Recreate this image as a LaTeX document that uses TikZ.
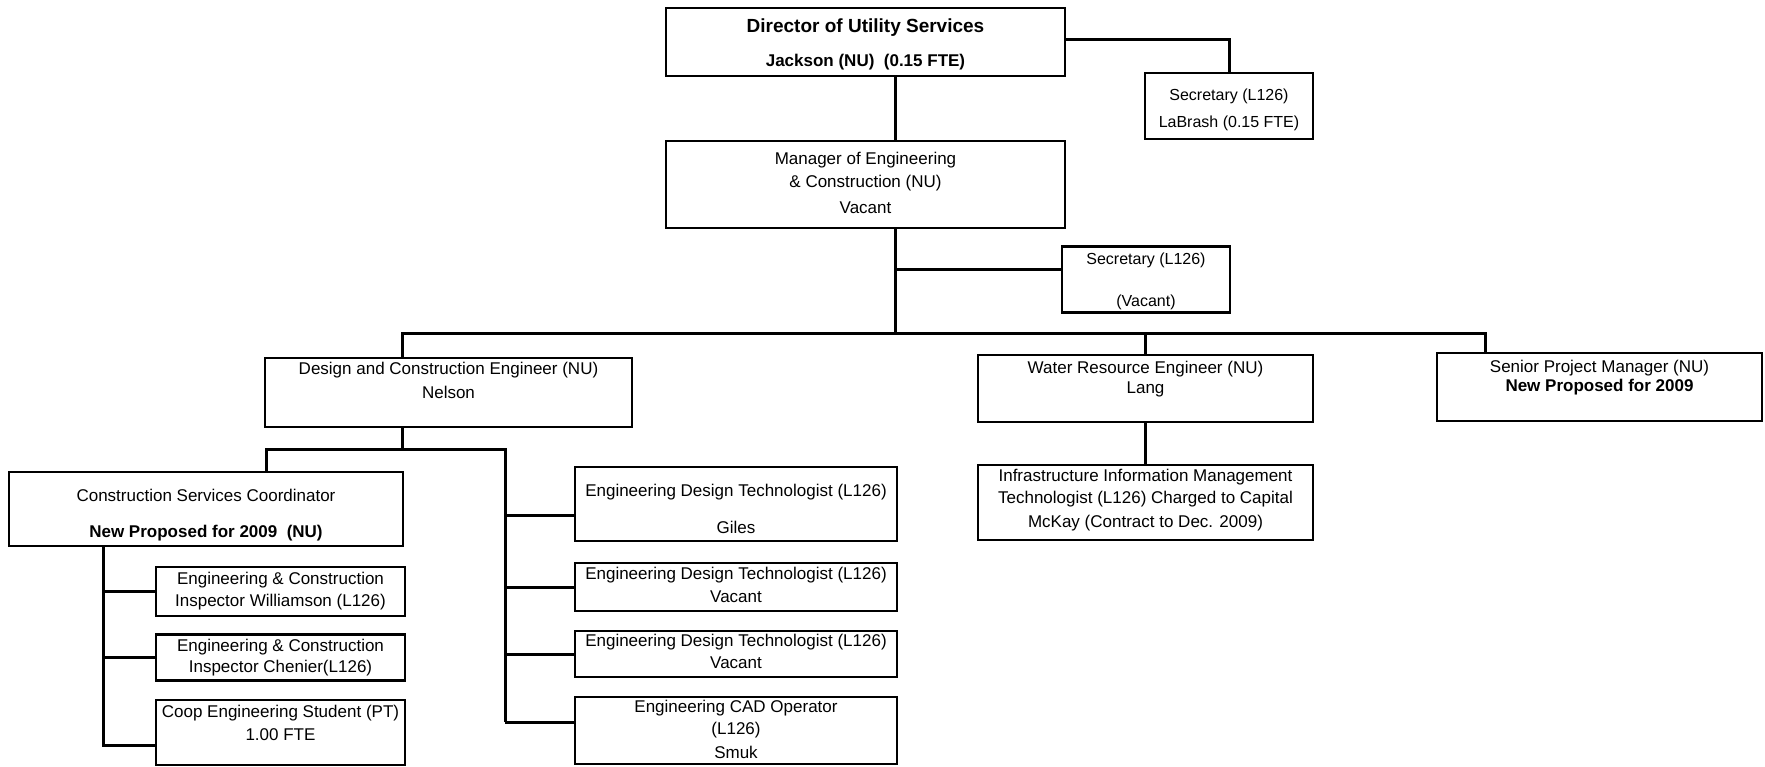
\documentclass[tikz,border=0pt]{standalone}
\usepackage{fontspec}
\setmainfont{Liberation Sans}
\begin{document}
\begin{tikzpicture}[x=1pt,y=-1pt,
  box/.style={draw, line width=2.8pt, inner sep=0pt},
  con/.style={line width=3pt},
  txt/.style={inner sep=0pt, font=\fontsize{17}{20}\selectfont},
  stxt/.style={inner sep=0pt, font=\fontsize{16}{19}\selectfont},
  btxt/.style={inner sep=0pt, font=\fontsize{17}{20}\selectfont\bfseries},
  ttl/.style={inner sep=0pt, font=\fontsize{19}{22}\selectfont\bfseries}]
\useasboundingbox[fill=white] (0,0) rectangle (1765,767);
% boxes
\node[box, minimum width=399pt, minimum height=68pt] (dir) at (865.5,42) {};
\node[box, minimum width=168pt, minimum height=66pt] (sec1) at (1229,106) {};
\node[box, minimum width=399pt, minimum height=87pt] (mgr) at (865.5,184.5) {};
\node[box, minimum width=168pt, minimum height=66pt] (sec2) at (1146,279.5) {};
\node[box, minimum width=367pt, minimum height=69pt] (des) at (448.5,392.5) {};
\node[box, minimum width=335pt, minimum height=67pt] (wat) at (1145.5,388.5) {};
\node[box, minimum width=325pt, minimum height=68pt] (sen) at (1599.5,387) {};
\node[box, minimum width=335pt, minimum height=75pt] (inf) at (1145.5,502.5) {};
\node[box, minimum width=394pt, minimum height=74pt] (csc) at (206,509) {};
\node[box, minimum width=249pt, minimum height=49pt] (wil) at (280.5,591.5) {};
\node[box, minimum width=249pt, minimum height=46pt] (che) at (280.5,657.5) {};
\node[box, minimum width=249pt, minimum height=65pt] (coop) at (280.5,732.5) {};
\node[box, minimum width=322pt, minimum height=74pt] (edt1) at (736,504) {};
\node[box, minimum width=322pt, minimum height=48pt] (edt2) at (736,587) {};
\node[box, minimum width=322pt, minimum height=46pt] (edt3) at (736,654) {};
\node[box, minimum width=322pt, minimum height=67pt] (cad) at (736,730.5) {};
% texts
\node[ttl] (dirA) at (865.5,28) {Director of Utility Services};
\node[btxt] (dirB) at (865.5,62) {Jackson (NU)~ (0.15 FTE)};
\node[stxt] (sec1A) at (1229,96) {Secretary (L126)};
\node[stxt] (sec1B) at (1229,123) {LaBrash (0.15 FTE)};
\node[txt] (mgrA) at (865.5,160) {Manager of Engineering};
\node[txt] (mgrB) at (865.5,183) {\& Construction (NU)};
\node[txt] (mgrC) at (865.5,208) {Vacant};
\node[stxt] (sec2A) at (1146,260) {Secretary (L126)};
\node[stxt] (sec2B) at (1146,302) {(Vacant)};
\node[txt] (desA) at (448.5,370) {Design and Construction Engineer (NU)};
\node[txt] (desB) at (448.5,392) {Nelson};
\node[txt] (watA) at (1145.5,369) {Water Resource Engineer (NU)};
\node[txt] (watB) at (1145.5,389) {Lang};
\node[txt] (senA) at (1599.5,368) {Senior Project Manager (NU)};
\node[btxt] (senB) at (1599.5,387) {New Proposed for 2009};
\node[txt] (infA) at (1145.5,477) {Infrastructure Information Management};
\node[txt] (infB) at (1145.5,499) {Technologist (L126) Charged to Capital};
\node[txt] (infC) at (1145.5,523) {McKay (Contract to Dec. 2009)};
\node[txt] (cscA) at (206,495) {Construction Services Coordinator};
\node[btxt] (cscB) at (206,533) {New Proposed for 2009~ (NU)};
\node[txt] (wilA) at (280.5,580) {Engineering \& Construction};
\node[txt] (wilB) at (280.5,602) {Inspector Williamson (L126)};
\node[txt] (cheA) at (280.5,647) {Engineering \& Construction};
\node[txt] (cheB) at (280.5,668) {Inspector Chenier(L126)};
\node[txt] (coopA) at (280.5,713) {Coop Engineering Student (PT)};
\node[txt] (coopB) at (280.5,735) {1.00 FTE};
\node[txt] (edt1A) at (736,492) {Engineering Design Technologist (L126)};
\node[txt] (edt1B) at (736,527) {Giles};
\node[txt] (edt2A) at (736,575) {Engineering Design Technologist (L126)};
\node[txt] (edt2B) at (736,597) {Vacant};
\node[txt] (edt3A) at (736,642) {Engineering Design Technologist (L126)};
\node[txt] (edt3B) at (736,663) {Vacant};
\node[txt] (cadA) at (736,708) {Engineering CAD Operator};
\node[txt] (cadB) at (736,730) {(L126)};
\node[txt] (cadC) at (736,752) {Smuk};
% connector helper coordinates
\coordinate (spine) at (895,334);
\coordinate (busL) at (402,334);
\coordinate (busR) at (1485,334);
\coordinate (subL) at (266,449);
\coordinate (subR) at (505,449);
\coordinate (cscV) at (103,546);
% connectors
\draw[con] ([yshift=2pt]dir.east) -| (sec1.north);
\draw[con] (spine |- dir.south) -- (spine |- mgr.north);
\draw[con] (spine |- mgr.south) -- (spine);
\draw[con] (spine |- 0,270) -- ([yshift=9.5pt]sec2.west);
\draw[con] (busL |- des.north) -- (busL) -- (busR) -- (busR |- sen.north);
\draw[con] (wat.north) -- (wat.north |- spine);
\draw[con] (wat.south) -- (inf.north);
\draw[con] (busL |- des.south) -- (busL |- subL);
\draw[con] (subL |- csc.north) -- (subL) -- (subR) -- (subR |- 0,722);
\draw[con] (subR |- 0,515) -- ([yshift=-11pt]edt1.west);
\draw[con] (subR |- edt2.west) -- (edt2.west);
\draw[con] (subR |- edt3.west) -- (edt3.west);
\draw[con] (subR |- 0,722) -- ([yshift=8.5pt]cad.west);
\draw[con] (cscV |- csc.south) -- (cscV |- 0,745) -- ([yshift=-12.5pt]coop.west);
\draw[con] (cscV |- wil.west) -- (wil.west);
\draw[con] (cscV |- che.west) -- (che.west);
\end{tikzpicture}
\end{document}
